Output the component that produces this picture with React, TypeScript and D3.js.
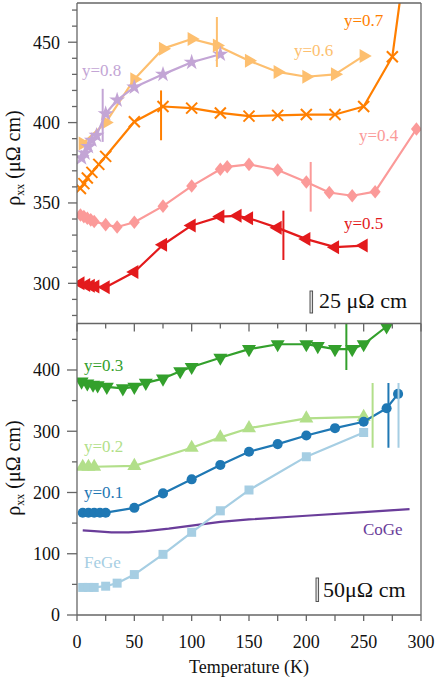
import React from "react";
import * as d3 from "d3";

// ---------- data ----------
const y06T = [5, 25, 50, 75, 100, 122, 150, 175, 200, 225, 250];
const y06V = [387, 400, 427, 446, 452, 448, 438.5, 431.5, 428.5, 430, 441.5];

const y08T = [4, 7, 10, 13, 17, 25, 35, 50, 75, 100, 125];
const y08V = [378, 381, 385, 389, 392, 405.5, 414, 422, 430, 437.5, 442.5];

const y07T = [3, 6, 9, 13, 19, 25, 50, 75, 100, 125, 150, 175, 200, 225, 250, 275, 290];
const y07V = [359, 362, 365.5, 369, 374, 379, 400.5, 410, 409, 406, 404, 404.5, 405, 405, 410, 441, 520];

const y04T = [3, 6, 9, 12, 15, 25, 35, 50, 75, 100, 125, 131, 150, 175, 200, 220, 240, 260, 296];
const y04V = [342.5, 341.5, 340.5, 339.5, 338.5, 336.5, 335, 338, 348, 360.5, 371, 372.5, 374, 370.5, 363, 356.5, 354.5, 357, 396];

const y05T = [3, 8, 12, 16, 25, 50, 75, 100, 125, 140, 150, 175, 200, 225, 250];
const y05V = [300, 299, 298.5, 298, 297.5, 307, 324, 336, 341.5, 342, 340.5, 334.5, 327.5, 322.5, 323.5];

const y03T = [4, 9, 14, 18, 26, 40, 50, 60, 75, 90, 100, 125, 150, 175, 200, 210, 225, 240, 250, 270, 285];
const y03V = [381, 378, 376, 375, 372.5, 370, 372.5, 379, 386, 398, 405, 420, 434, 442, 442, 439, 434, 434, 442, 471, 520];

const y02T = [5, 10, 15, 50, 100, 125, 150, 200, 250];
const y02V = [242, 242, 242, 243.5, 273, 290, 305, 321, 323.5];

const y01T = [5, 10, 15, 20, 25, 50, 75, 100, 125, 150, 175, 200, 225, 250, 270, 280];
const y01V = [167, 167, 167, 167, 167, 175, 198.5, 221.5, 245, 266.5, 279, 293, 305, 315.5, 337.5, 361];

const feGeT = [5, 10, 15, 25, 35, 50, 75, 100, 125, 150, 200, 250];
const feGeV = [45, 45, 45, 47, 52, 66, 99, 135, 170, 204, 258.5, 298];

const coGeT = [5, 15, 30, 45, 60, 80, 100, 125, 150, 200, 250, 290];
const coGeV = [138, 137, 135, 135, 137, 141, 146, 152, 156, 162, 168, 173];

// transition markers: temperature, low value, high value
const topMarkT = [122, 22.4, 73.3, 203.8, 180];
const topMarkLo = [434.6, 388, 389, 344.6, 314.5];
const topMarkHi = [465.7, 421, 420, 375.5, 345.2];
const botMarkT = [234.9, 257.8, 271.6, 280.4];
const botMarkLo = [400, 273, 273, 273];
const botMarkHi = [490, 378.8, 378.8, 378.8];

const xTicksMajor = [0, 50, 100, 150, 200, 250, 300];
const topYTicks = [300, 350, 400, 450];
const botYTicks = [0, 100, 200, 300, 400];

// ---------- layout ----------
const W = 436, H = 679;
const L = 77, R = 421;
const topY0 = 3, midY = 323.5, botY1 = 615;

const x = d3.scaleLinear().domain([0, 300]).range([L, R]);
const yT = d3.scaleLinear().domain([275, 474.4]).range([midY, topY0]);
const yB = d3.scaleLinear().domain([0, 475.9]).range([botY1, midY]);

const C = {
  y08: "#c3a5d5",
  y06: "#fdbf6f",
  y07: "#ff7f00",
  y04: "#fb9a99",
  y05: "#e31a1c",
  y03: "#33a02c",
  y02: "#b2df8a",
  y01: "#1f78b4",
  fe: "#a6cee3",
  co: "#6a3d9a",
};

const FONT = "Liberation Serif, DejaVu Serif, serif";
const AX = "#666";

type Kind = "triR" | "triL" | "triU" | "triD" | "star" | "x" | "diamond" | "circle" | "square" | "none";

function markerPath(kind: Kind): string {
  switch (kind) {
    case "triU":
    case "triD":
    case "triL":
    case "triR":
      return d3.symbol(d3.symbolTriangle, 85)()!;
    case "star":
      return d3.symbol(d3.symbolStar, 80)()!;
    case "diamond":
      return "M0,-6.8L5.5,0L0,6.8L-5.5,0Z";
    case "square":
      return "M-4.5,-4.5H4.5V4.5H-4.5Z";
    case "circle":
      return d3.symbol(d3.symbolCircle, 80)()!;
    default:
      return "";
  }
}
const rot: Record<string, number> = { triU: 0, triD: 180, triL: -90, triR: 90 };

function Series({ T, V, y, color, kind, clip }: { T: number[]; V: number[]; y: d3.ScaleLinear<number, number>; color: string; kind: Kind; clip: string }) {
  const pts = T.map((t, i) => [x(t), y(V[i])] as [number, number]);
  const line = d3.line()(pts)!;
  const mp = markerPath(kind);
  return (
    <g clipPath={`url(#${clip})`}>
      <path d={line} fill="none" stroke={color} strokeWidth={2.2} strokeLinejoin="round" />
      {pts.map(([px, py], i) =>
        kind === "x" ? (
          <g key={i} transform={`translate(${px},${py})`} stroke={color} strokeWidth={2}>
            <line x1={-5.5} y1={-5.5} x2={5.5} y2={5.5} />
            <line x1={-5.5} y1={5.5} x2={5.5} y2={-5.5} />
          </g>
        ) : kind === "none" ? null : (
          <path key={i} d={mp} fill={color} transform={`translate(${px},${py}) rotate(${rot[kind] ?? 0})`} />
        )
      )}
    </g>
  );
}

function YLabel({ cx, cy }: { cx: number; cy: number }) {
  return (
    <text transform={`translate(${cx},${cy}) rotate(-90)`} textAnchor="middle" style={{ fontFamily: FONT }} fontSize={20} fill="#111">
      ρ<tspan fontSize={12} dy={4}>xx</tspan>
      <tspan dy={-4}> (μΩ cm)</tspan>
    </text>
  );
}

export default function App() {
  const topMinor = d3.range(280, 471, 10).filter((v) => v % 50 !== 0);
  const botMinor = d3.range(50, 470, 100);
  const xTicksAll = d3.range(0, 301, 25);
  const topColors = [C.y06, C.y08, C.y07, C.y04, C.y05];
  const botColors = [C.y03, C.y02, C.y01, C.fe];

  return (
    <svg width={W} height={H} style={{ position: "absolute", left: 0, top: 0, background: "#fff" }}>
      <defs>
        <clipPath id="clipTop">
          <rect x={L} y={topY0} width={R - L} height={midY - topY0} />
        </clipPath>
        <clipPath id="clipBot">
          <rect x={L} y={midY} width={R - L} height={botY1 - midY} />
        </clipPath>
      </defs>

      {/* ---------- top panel ---------- */}
      <Series T={y06T} V={y06V} y={yT} color={C.y06} kind="triR" clip="clipTop" />
      <Series T={y08T} V={y08V} y={yT} color={C.y08} kind="star" clip="clipTop" />
      <Series T={y07T} V={y07V} y={yT} color={C.y07} kind="x" clip="clipTop" />
      <Series T={y04T} V={y04V} y={yT} color={C.y04} kind="diamond" clip="clipTop" />
      <Series T={y05T} V={y05V} y={yT} color={C.y05} kind="triL" clip="clipTop" />
      {topMarkT.map((t, i) => (
        <line key={i} x1={x(t)} x2={x(t)} y1={yT(topMarkLo[i])} y2={yT(topMarkHi[i])} stroke={topColors[i]} strokeWidth={2} />
      ))}

      {/* ---------- bottom panel ---------- */}
      <Series T={coGeT} V={coGeV} y={yB} color={C.co} kind="none" clip="clipBot" />
      <Series T={feGeT} V={feGeV} y={yB} color={C.fe} kind="square" clip="clipBot" />
      <Series T={y02T} V={y02V} y={yB} color={C.y02} kind="triU" clip="clipBot" />
      <Series T={y01T} V={y01V} y={yB} color={C.y01} kind="circle" clip="clipBot" />
      <Series T={y03T} V={y03V} y={yB} color={C.y03} kind="triD" clip="clipBot" />
      <g clipPath="url(#clipBot)">
        {botMarkT.map((t, i) => (
          <line key={i} x1={x(t)} x2={x(t)} y1={yB(botMarkLo[i])} y2={yB(botMarkHi[i])} stroke={botColors[i]} strokeWidth={2} />
        ))}
      </g>

      {/* ---------- series labels ---------- */}
      <g style={{ fontFamily: FONT }} fontSize={17}>
        <text x={82} y={76} fill={C.y08}>y=0.8</text>
        <text x={294} y={56} fill={C.y06}>y=0.6</text>
        <text x={344} y={26} fill={C.y07}>y=0.7</text>
        <text x={359} y={141} fill={C.y04}>y=0.4</text>
        <text x={344} y={229} fill={C.y05}>y=0.5</text>
        <text x={84} y={371} fill={C.y03}>y=0.3</text>
        <text x={84} y={452} fill={C.y02}>y=0.2</text>
        <text x={84} y={498} fill={C.y01}>y=0.1</text>
        <text x={84} y={568} fill={C.fe}>FeGe</text>
        <text x={363} y={535} fill={C.co}>CoGe</text>
      </g>

      {/* ---------- scale bars ---------- */}
      <rect x={310} y={291} width={2.6} height={22} fill="#ddd" stroke="#444" strokeWidth={0.9} />
      <text x={319} y={307.5} style={{ fontFamily: FONT }} fontSize={22} fill="#111">25 μΩ cm</text>
      <rect x={316} y={578} width={2.6} height={23.5} fill="#ddd" stroke="#444" strokeWidth={0.9} />
      <text x={323} y={597} style={{ fontFamily: FONT }} fontSize={22} fill="#111">50μΩ cm</text>

      {/* ---------- frames ---------- */}
      <g stroke={AX} strokeWidth={1.3} fill="none">
        <line x1={L} x2={R} y1={topY0} y2={topY0} />
        <line x1={R} x2={R} y1={topY0} y2={botY1} />
        <line x1={L} x2={L} y1={topY0} y2={botY1} />
        <line x1={L} x2={R} y1={midY} y2={midY} />
        <line x1={L} x2={R} y1={botY1} y2={botY1} />
        {topYTicks.map((v) => (
          <line key={"tm" + v} x1={L - 9} x2={L} y1={yT(v)} y2={yT(v)} />
        ))}
        {topMinor.map((v) => (
          <line key={"tn" + v} x1={L - 5} x2={L} y1={yT(v)} y2={yT(v)} />
        ))}
        {botYTicks.map((v) => (
          <line key={"bm" + v} x1={L - 10} x2={L} y1={yB(v)} y2={yB(v)} />
        ))}
        {botMinor.map((v) => (
          <line key={"bn" + v} x1={L - 5} x2={L} y1={yB(v)} y2={yB(v)} />
        ))}
        {xTicksAll.map((t) => (
          <line key={"mx" + t} x1={x(t)} x2={x(t)} y1={midY} y2={midY + (t % 50 === 0 ? 8 : 5)} />
        ))}
        {xTicksAll.map((t) => (
          <line key={"bx" + t} x1={x(t)} x2={x(t)} y1={botY1} y2={botY1 + 6} />
        ))}
      </g>

      {/* ---------- tick labels ---------- */}
      <g style={{ fontFamily: FONT }} fontSize={18} fill="#111">
        {topYTicks.map((v) => (
          <text key={v} x={60} y={yT(v)} dy="0.35em" textAnchor="end">{v}</text>
        ))}
        {botYTicks.map((v) => (
          <text key={v} x={60} y={yB(v)} dy="0.35em" textAnchor="end">{v}</text>
        ))}
        {xTicksMajor.map((t) => (
          <text key={t} x={x(t)} y={648} textAnchor="middle">{t}</text>
        ))}
        <text x={249} y={673} textAnchor="middle">Temperature (K)</text>
      </g>

      <YLabel cx={20} cy={158} />
      <YLabel cx={20} cy={468} />
    </svg>
  );
}
